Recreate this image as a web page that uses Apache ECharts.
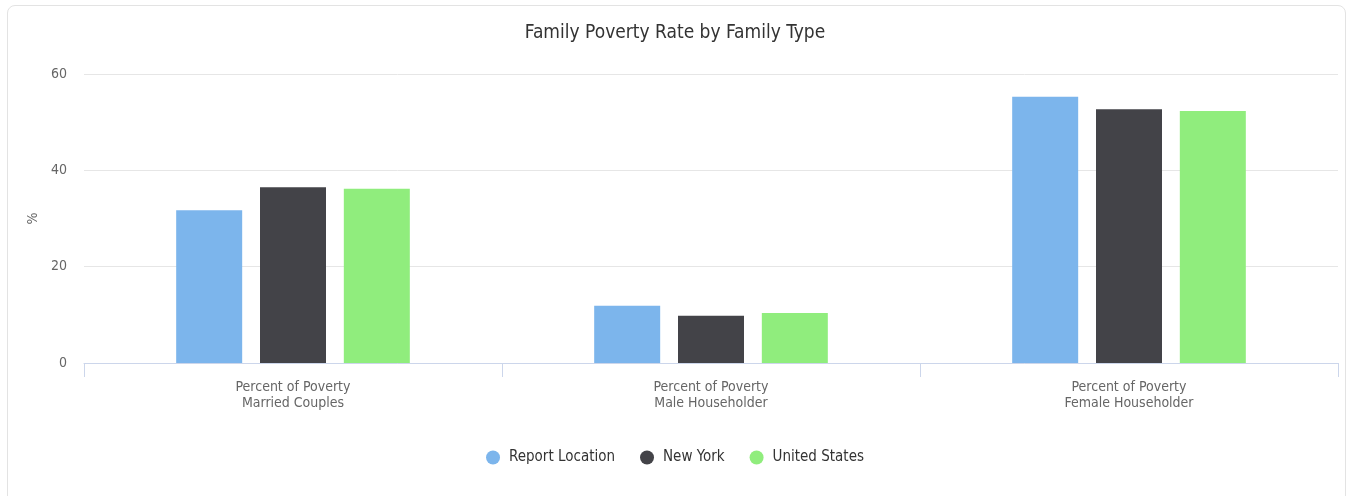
<!DOCTYPE html>
<html><head><meta charset="utf-8">
<script src="https://cdn.jsdelivr.net/npm/echarts@6/dist/echarts.min.js"></script>
<style>
html,body{margin:0;padding:0;background:#fff;}
#frame{position:absolute;left:7px;top:5px;width:1339px;height:500px;border:1px solid #e3e3e3;border-radius:8px;box-sizing:border-box;}
#chart{position:absolute;left:0;top:0;width:1350px;height:496px;}
</style></head>
<body>
<div id="frame"></div>
<div id="chart"></div>
<script>
const categories = ["Percent of Poverty\nMarried Couples", "Percent of Poverty\nMale Householder", "Percent of Poverty\nFemale Householder"];
const seriesNames = ["Report Location", "New York", "United States"];
const reportLocation = [31.7, 11.9, 55.3];
const newYork = [36.5, 9.8, 52.7];
const unitedStates = [36.2, 10.4, 52.3];
const yTicks = [0, 20, 40, 60];
const colors = ["#7cb5ec", "#434348", "#90ed7d"];
const FONT = "'DejaVu Sans Condensed', 'Open Sans', sans-serif";

const chart = echarts.init(document.getElementById('chart'), null, {renderer: 'canvas'});
const values = [reportLocation, newYork, unitedStates];
chart.setOption({
  animation: false,
  color: colors,
  title: {
    text: "Family Poverty Rate by Family Type",
    left: 'center', top: 19,
    textStyle: {fontFamily: FONT, fontSize: 19, fontWeight: 'normal', color: '#333333'}
  },
  legend: {
    data: seriesNames,
    bottom: 26, left: 'center',
    icon: 'circle', itemWidth: 14, itemHeight: 14, itemGap: 25,
    textStyle: {fontFamily: FONT, fontSize: 15, color: '#333333', padding: [0, 0, 0, 4]}
  },
  grid: {left: 84, right: 12, top: 74, bottom: 133, containLabel: false},
  xAxis: {
    type: 'category',
    data: categories,
    axisLine: {lineStyle: {color: '#ccd6eb'}},
    axisTick: {show: true, length: 14, lineStyle: {color: '#ccd6eb'}},
    axisLabel: {fontFamily: FONT, fontSize: 14, color: '#666666', margin: 16, lineHeight: 16}
  },
  yAxis: {
    type: 'value', min: yTicks[0], max: yTicks[yTicks.length-1], interval: 20,
    name: '%', nameLocation: 'middle', nameGap: 44, nameRotate: 90,
    nameTextStyle: {fontFamily: FONT, fontSize: 14, color: '#666666'},
    axisLine: {show: false}, axisTick: {show: false},
    splitLine: {lineStyle: {color: '#e6e6e6'}},
    axisLabel: {fontFamily: FONT, fontSize: 14, color: '#666666', margin: 17}
  },
  series: seriesNames.map((n, i) => ({
    name: n, type: 'bar', data: values[i],
    barWidth: 66, barGap: '27%'
  }))
});
</script>
</body></html>
